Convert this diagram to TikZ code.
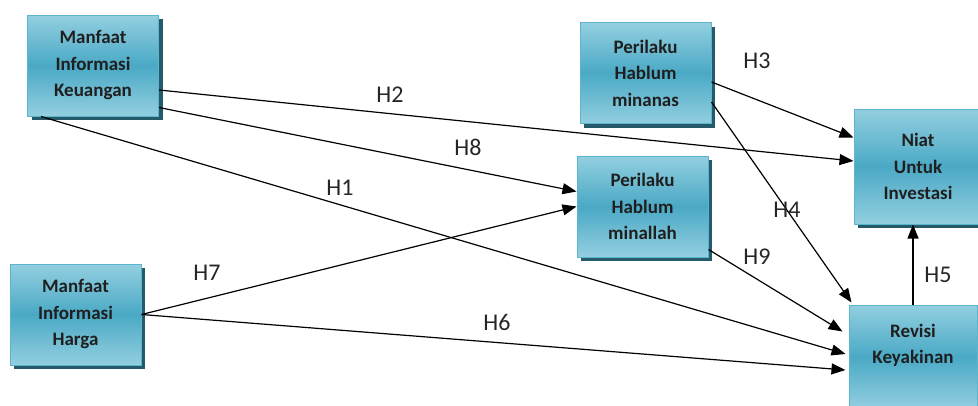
\documentclass[tikz,border=0pt]{standalone}
\usepackage{fontspec}
\setmainfont{Carlito}
\usetikzlibrary{shapes, arrows.meta, positioning, shadows, calc}
\definecolor{boxlight}{HTML}{93CFE0}
\definecolor{boxmid}{HTML}{4AA9C5}
\definecolor{boxline}{HTML}{5BB5CD}
\definecolor{boxshadow}{HTML}{245A6A}
\tikzstyle{construct} = [rectangle, minimum width=131pt, minimum height=101pt, text centered, align=center, draw=boxline, line width=1pt, top color=boxlight, bottom color=boxlight, middle color=boxmid, drop shadow={shadow xshift=4pt, shadow yshift=-4pt, fill=boxshadow, opacity=1}, font=\bfseries\fontsize{19}{26.5}\selectfont, text=black!88]
\tikzstyle{hyp} = [font=\fontsize{24}{26}\selectfont, text=black!85]
\tikzstyle{arrow} = [line width=1.2pt, -{Triangle[length=14pt,width=11pt]}]

\begin{document}
\begin{tikzpicture}[x=1pt, y=-1pt]
	\useasboundingbox (0,0) rectangle (978,405);
	\node (keuangan) [construct] at (93,65.5) {Manfaat\\Informasi\\Keuangan};
	\node (minanas) [construct] at (645.5,73) {Perilaku\\Hablum\\minanas};
	\node (minallah) [construct] at (642.5,206.5) {Perilaku\\Hablum\\minallah};
	\node (harga) [construct] at (75.5,314.5) {Manfaat\\Informasi\\Harga};
	\node (niat) [construct, minimum width=128pt, minimum height=115pt] at (918,166.5) {Niat\\Untuk\\Investasi};
	\node (revisi) [construct, minimum width=128pt, minimum height=104pt] at (913,357) {Revisi\\Keyakinan\\\mbox{}};
	% hypotheses
	\draw [arrow] ($(keuangan.east)+(0,24.5)$) -- ($(niat.west)+(0,-5.5)$);
	\draw [arrow] ($(keuangan.east)+(0,42)$) -- ($(minallah.west)+(0,-15)$);
	\draw [arrow] ($(keuangan.south west)+(14,0)$) -- ($(revisi.west)+(-3,-3)$);
	\draw [arrow] ($(minanas.east)+(0,9)$) -- ($(niat.west)+(0,-29)$);
	\draw [arrow] ($(minanas.east)+(0,29)$) -- ($(revisi.north west)+(3,-2)$);
	\draw [arrow] (harga.east) -- (minallah.west);
	\draw [arrow] (harga.east) -- ($(revisi.west)+(-3,13)$);
	\draw [arrow] ($(minallah.east)+(0,43)$) -- ($(revisi.north west)+(-6,27)$);
	\draw [arrow] (revisi.north) -- (revisi.north |- niat.south);
	\node (h1) [hyp] at (340,188) {H1};
	\node (h2) [hyp] at (390,95) {H2};
	\node (h3) [hyp] at (757,61) {H3};
	\node (h4) [hyp] at (787,210) {H4};
	\node (h5) [hyp] at (938,275) {H5};
	\node (h6) [hyp] at (497,322) {H6};
	\node (h7) [hyp] at (207,273) {H7};
	\node (h8) [hyp] at (468,147) {H8};
	\node (h9) [hyp] at (757,257) {H9};
\end{tikzpicture}
\end{document}
